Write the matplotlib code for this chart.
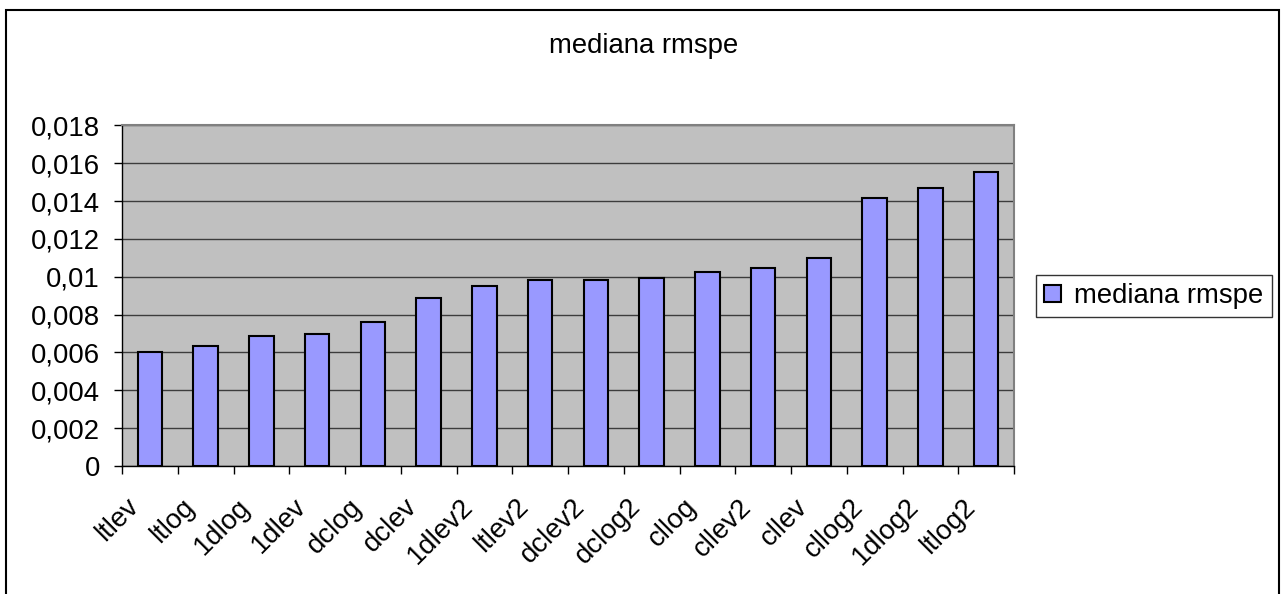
import matplotlib.pyplot as plt
import matplotlib.patches as patches
import matplotlib.transforms as mtransforms
from matplotlib.ticker import FuncFormatter, MultipleLocator
import numpy as np

# median rmspe per model variant
models = ["ltlev", "ltlog", "1dlog", "1dlev", "dclog", "dclev", "1dlev2", "ltlev2",
          "dclev2", "dclog2", "cllog", "cllev2", "cllev", "cllog2", "1dlog2", "ltlog2"]
rmspe = [0.00600, 0.00634, 0.00686, 0.00697, 0.00762, 0.00889, 0.00951, 0.00982,
         0.00981, 0.00994, 0.01025, 0.01047, 0.01099, 0.01416, 0.01469, 0.01555]
series_name = "mediana rmspe"

plt.rcParams['font.family'] = ['Liberation Sans', 'DejaVu Sans']
fs = 19.8

fig = plt.figure(figsize=(12.81, 5.94), dpi=100)
ax = fig.add_axes([122 / 1281, 128 / 594, (1014 - 122) / 1281, (466 - 125.3) / 594])

x = np.arange(len(models))
ax.bar(x, rmspe, width=0.44, color="#9999FF", edgecolor="black", linewidth=1.5,
       label=series_name, zorder=3)

ax.set_xlim(-0.5, len(models) - 0.5)
ax.set_ylim(0, 0.018)
ax.set_facecolor("#C0C0C0")

# y axis: comma decimal labels
ax.yaxis.set_major_locator(MultipleLocator(0.002))
ax.yaxis.set_major_formatter(FuncFormatter(lambda v, p: f"{v:g}".replace(".", ",")))
ax.grid(axis="y", color="#3c3c3c", linewidth=1.0, zorder=1)
ax.tick_params(axis="y", direction="out", length=6, width=1, pad=10, labelsize=fs)

# x axis: tick marks between categories, labels at centers
ax.set_xticks(x)
ax.set_xticklabels(models, rotation=45, ha="right", fontsize=fs)
ax.set_xticks(np.arange(len(models) + 1) - 0.5, minor=True)
ax.tick_params(axis="x", which="major", length=0, pad=20)
ax.tick_params(axis="x", which="minor", direction="out", length=6, width=1)
shift = mtransforms.ScaledTranslation(-6 / 100, 0, fig.dpi_scale_trans)
for lbl in ax.get_xticklabels():
    lbl.set_transform(lbl.get_transform() + shift)

for side in ["top", "right"]:
    ax.spines[side].set_color("#808080")
    ax.spines[side].set_linewidth(1.5)
for side in ["left", "bottom"]:
    ax.spines[side].set_color("black")
    ax.spines[side].set_linewidth(1.0)

fig.text(644 / 1281, 1 - 46 / 594, series_name, ha="center", va="center", fontsize=fs)

leg = fig.legend(loc="center left", bbox_to_anchor=(1036 / 1281, 1 - 296 / 594),
                 fontsize=fs, frameon=True, fancybox=False, shadow=False,
                 handlelength=0.6, handleheight=0.6, handletextpad=0.5,
                 borderpad=0.3, borderaxespad=0)
leg.get_frame().set_edgecolor("black")
leg.get_frame().set_linewidth(1.0)

# outer chart frame
frame = patches.Rectangle((6 / 1281, -0.01), (1279 - 6) / 1281, 1 - 10 / 594 + 0.01,
                          transform=fig.transFigure, fill=False, edgecolor="black",
                          linewidth=1.5)
fig.patches.append(frame)

fig.savefig("out.png", dpi=100)
